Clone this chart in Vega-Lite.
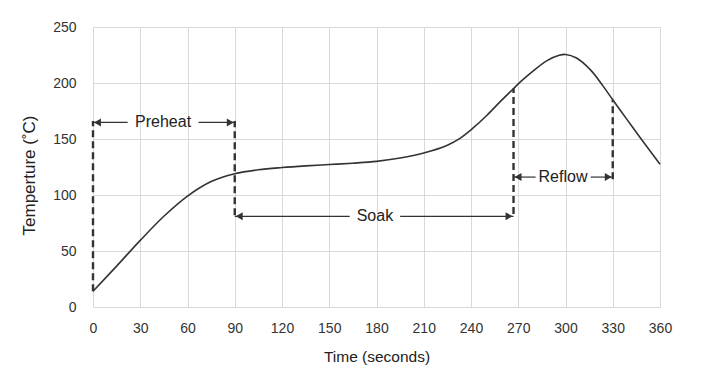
{
  "$schema": "https://vega.github.io/schema/vega-lite/v6.json",
  "width": 567,
  "height": 280,
  "autosize": {"type": "none"},
  "padding": {"left": 93, "top": 27, "right": 41, "bottom": 64},
  "background": "white",
  "config": {
    "view": {"stroke": null},
    "font": "Liberation Sans",
    "axis": {
      "domain": false,
      "ticks": false,
      "tickSize": 0,
      "grid": true,
      "gridColor": "#d9d9d9",
      "gridWidth": 1,
      "labelFont": "Liberation Sans",
      "labelFontSize": 14,
      "labelColor": "#333333",
      "labelFlush": false,
      "titleFont": "Liberation Sans",
      "titleFontWeight": "normal",
      "titleColor": "#222222"
    }
  },
  "datasets": {
    "curve": [
      {"t": 0, "temp": 14},
      {"t": 15, "temp": 36.5},
      {"t": 30, "temp": 59.5},
      {"t": 45, "temp": 81},
      {"t": 60, "temp": 99},
      {"t": 75, "temp": 112},
      {"t": 90, "temp": 119},
      {"t": 105, "temp": 122.5},
      {"t": 120, "temp": 124.5},
      {"t": 135, "temp": 126},
      {"t": 150, "temp": 127.2},
      {"t": 165, "temp": 128.4},
      {"t": 180, "temp": 130},
      {"t": 195, "temp": 133},
      {"t": 210, "temp": 137.5},
      {"t": 225, "temp": 144.5},
      {"t": 233, "temp": 150.6},
      {"t": 241, "temp": 159.4},
      {"t": 250, "temp": 171},
      {"t": 259, "temp": 184},
      {"t": 267, "temp": 195},
      {"t": 271, "temp": 200.5},
      {"t": 278, "temp": 209},
      {"t": 288, "temp": 219.8},
      {"t": 296, "temp": 224.7},
      {"t": 300, "temp": 225.5},
      {"t": 307, "temp": 222.3},
      {"t": 316, "temp": 211.5},
      {"t": 324, "temp": 197},
      {"t": 330, "temp": 185},
      {"t": 339, "temp": 167.5},
      {"t": 347, "temp": 152},
      {"t": 360, "temp": 127.5}
    ],
    "dashes": [
      {"t": 0, "y1": 14, "y2": 166},
      {"t": 90, "y1": 82, "y2": 166},
      {"t": 267, "y1": 83, "y2": 195},
      {"t": 330, "y1": 114, "y2": 185}
    ],
    "segments": [
      {"t1": 0, "t2": 22, "y": 164.8},
      {"t1": 67, "t2": 90, "y": 164.8},
      {"t1": 90, "t2": 163, "y": 81},
      {"t1": 195, "t2": 267, "y": 81},
      {"t1": 267, "t2": 281, "y": 116},
      {"t1": 316, "t2": 330, "y": 116}
    ],
    "heads": [
      {"t": 0, "y": 164.8, "dir": "left"},
      {"t": 90, "y": 164.8, "dir": "right"},
      {"t": 90, "y": 81, "dir": "left"},
      {"t": 267, "y": 81, "dir": "right"},
      {"t": 267, "y": 116, "dir": "left"},
      {"t": 330, "y": 116, "dir": "right"}
    ],
    "labels": [
      {"t": 44.5, "y": 164.8, "label": "Preheat"},
      {"t": 179, "y": 81, "label": "Soak"},
      {"t": 298.4, "y": 116, "label": "Reflow"}
    ]
  },
  "layer": [
    {
      "data": {"name": "curve"},
      "mark": {"type": "line", "color": "#333333", "strokeWidth": 1.6, "interpolate": "catmull-rom"},
      "encoding": {
        "x": {
          "field": "t", "type": "quantitative",
          "scale": {"domain": [0, 360], "nice": false},
          "axis": {
            "values": [0, 30, 60, 90, 120, 150, 180, 210, 240, 270, 300, 330, 360],
            "labelPadding": 14,
            "title": "Time (seconds)",
            "titleFontSize": 15.5,
            "titleBaseline": "alphabetic",
            "titleY": 54.5
          }
        },
        "y": {
          "field": "temp", "type": "quantitative",
          "scale": {"domain": [0, 250], "nice": false},
          "axis": {
            "values": [0, 50, 100, 150, 200, 250],
            "labelPadding": 17,
            "title": "Temperture (˚C)",
            "titleFontSize": 17,
            "titleAngle": -90,
            "titleAlign": "center",
            "titleBaseline": "middle",
            "titleX": -64,
            "titleY": 148
          }
        }
      }
    },
    {
      "data": {"name": "dashes"},
      "mark": {"type": "rule", "color": "#333333", "strokeWidth": 2.4, "strokeDash": [7, 4]},
      "encoding": {
        "x": {"field": "t", "type": "quantitative"},
        "y": {"field": "y1", "type": "quantitative"},
        "y2": {"field": "y2"}
      }
    },
    {
      "data": {"name": "segments"},
      "mark": {"type": "rule", "color": "#333333", "strokeWidth": 1.2},
      "encoding": {
        "x": {"field": "t1", "type": "quantitative"},
        "x2": {"field": "t2"},
        "y": {"field": "y", "type": "quantitative"}
      }
    },
    {
      "data": {"name": "heads"},
      "transform": [{"filter": "datum.dir === 'left'"}],
      "mark": {"type": "point", "shape": "triangle-left", "filled": true, "size": 64, "color": "#333333", "opacity": 1, "xOffset": 4.5},
      "encoding": {
        "x": {"field": "t", "type": "quantitative"},
        "y": {"field": "y", "type": "quantitative"}
      }
    },
    {
      "data": {"name": "heads"},
      "transform": [{"filter": "datum.dir === 'right'"}],
      "mark": {"type": "point", "shape": "triangle-right", "filled": true, "size": 64, "color": "#333333", "opacity": 1, "xOffset": -4.5},
      "encoding": {
        "x": {"field": "t", "type": "quantitative"},
        "y": {"field": "y", "type": "quantitative"}
      }
    },
    {
      "data": {"name": "labels"},
      "mark": {"type": "text", "font": "Liberation Sans", "fontSize": 16, "color": "#222222", "align": "center", "baseline": "middle"},
      "encoding": {
        "x": {"field": "t", "type": "quantitative"},
        "y": {"field": "y", "type": "quantitative"},
        "text": {"field": "label"}
      }
    }
  ]
}
